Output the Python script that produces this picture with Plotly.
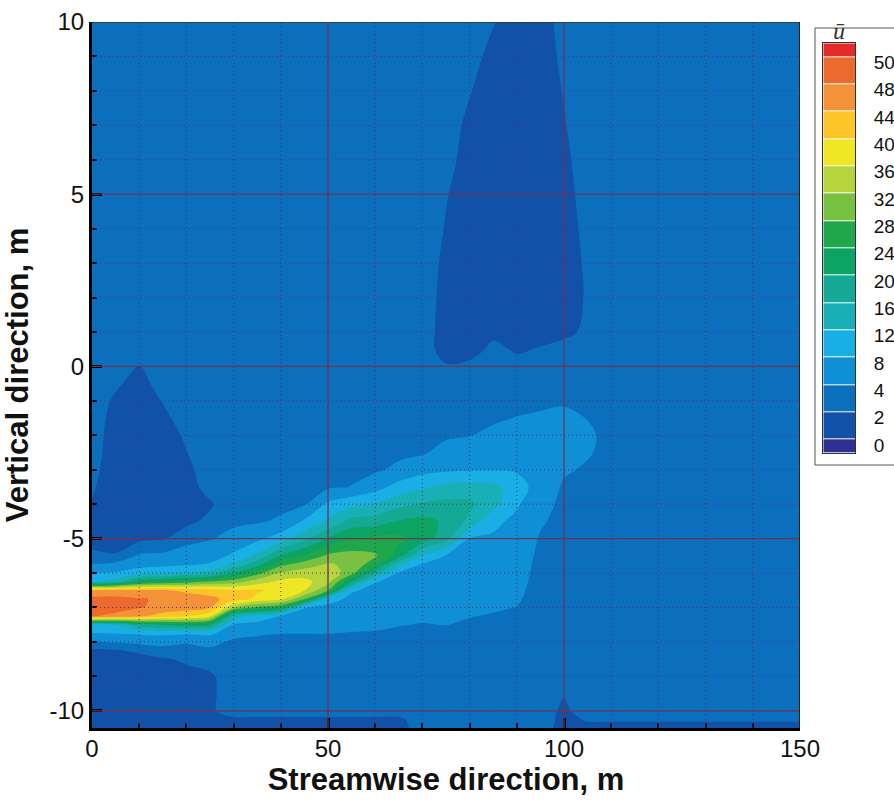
import plotly.graph_objects as go

# ---------------- data ----------------
# grid of the mean streamwise velocity field (x: streamwise m, y: vertical m)
X_M = [0, 5, 10, 15, 20, 25, 30, 35, 40, 45, 50, 55, 60, 65, 70, 75, 80, 85, 90, 95, 100, 105, 110, 120, 150]
Y_M = [-10.5, -10.25, -10, -9.5, -9, -8.5, -8.25, -8, -7.75, -7.5, -7.25, -7, -6.75, -6.5, -6.25, -6,
       -5.75, -5.5, -5, -4.5, -4, -3.5, -3, -2.5, -2, -1.5, -1, -0.5, 0, 0.5, 1, 2, 3, 4, 5, 6, 7, 8, 9, 10]

# one list per X_M column, values along Y_M (bottom -> top)
U_COLS = [
    # x = 0
    [1.2, 1.2, 1.2, 1.2, 1.2, 1.2, 1.5, 3.8, 7.9, 11, 48.2, 49.5, 49, 44.3, 11.5, 8.1, 4.1, 2.3,
     1.5, 1.6, 1.9, 2.2, 2.5, 2.8, 3, 3, 3, 3, 3, 3, 3, 3, 3, 3, 3, 3, 3, 3, 3, 3],
    # x = 5
    [1.2, 1.2, 1.2, 1.2, 1.2, 1.2, 1.8, 4.2, 8.2, 12.2, 47, 49.5, 49.2, 45, 14, 8.5, 4.6, 2.2,
     1.0, 1.0, 1.0, 1.0, 1.0, 1.0, 1.0, 1.3, 1.7, 2.3, 3, 3, 3, 3, 3, 3, 3, 3, 3, 3, 3, 3],
    # x = 10
    [1.2, 1.2, 1.2, 1.2, 1.2, 1.3, 2.4, 4.6, 8.5, 18, 45, 48.3, 48.3, 44.5, 22, 10, 6.5, 4.3,
     1.5, 1.0, 1.0, 1.0, 1.0, 1.0, 1.0, 1.0, 1.0, 1.3, 1.9, 3, 3, 3, 3, 3, 3, 3, 3, 3, 3, 3],
    # x = 15
    [1.2, 1.2, 1.2, 1.2, 1.2, 1.8, 3.0, 5, 9, 20.5, 42, 47, 47.5, 44.4, 24.3, 11, 7, 4.5,
     1.8, 1.1, 1.1, 1.1, 1.1, 1.1, 1.1, 1.5, 2.1, 2.8, 3, 3, 3, 3, 3, 3, 3, 3, 3, 3, 3, 3],
    # x = 20
    [1.3, 1.3, 1.3, 1.3, 1.4, 2.3, 3.4, 4.2, 8.5, 22, 40.5, 46, 46.5, 43, 26, 12.3, 7.5, 5.5,
     3.0, 1.6, 1.3, 1.3, 1.5, 1.95, 2.3, 2.9, 3, 3, 3, 3, 3, 3, 3, 3, 3, 3, 3, 3, 3, 3],
    # x = 25
    [1.3, 1.4, 1.6, 1.6, 1.7, 2.8, 3.5, 4.8, 9, 20.5, 37, 44.2, 45, 42, 28.3, 14, 8.5, 6,
     3.8, 2.4, 1.8, 2.6, 3, 3, 3, 3, 3, 3, 3, 3, 3, 3, 3, 3, 3, 3, 3, 3, 3, 3],
    # x = 30
    [1.3, 1.6, 3, 3, 3, 3, 3.1, 3.5, 5, 7.5, 15, 32.3, 42.5, 40.3, 30, 20.5, 13, 8.8,
     5.0, 3.4, 3, 3, 3, 3, 3, 3, 3, 3, 3, 3, 3, 3, 3, 3, 3, 3, 3, 3, 3, 3],
    # x = 35
    [1.3, 1.6, 3, 3, 2.4, 3, 3.05, 3.4, 4.3, 6.7, 10.5, 27, 39, 40.5, 34, 26.5, 18.5, 13,
     7, 3.6, 3.1, 3, 3, 3, 3, 3, 3, 3, 3, 3, 3, 3, 3, 3, 3, 3, 3, 3, 3, 3],
    # x = 40
    [1.3, 1.6, 3, 3, 3, 3, 3.1, 3.3, 4.05, 5.8, 7.8, 24.3, 37, 39, 37, 32.4, 27, 20.4,
     10, 4.5, 3.2, 3, 3, 3, 3, 3, 3, 3, 3, 3, 3, 3, 3, 3, 3, 3, 3, 3, 3, 3],
    # x = 45
    [1.3, 1.6, 3, 3, 3, 3, 3.1, 3.3, 4.05, 5.2, 6.5, 8.2, 28.4, 36.2, 37.2, 34, 30, 24.3,
     15, 8.5, 3.6, 3.0, 3, 3, 3, 3, 3, 3, 3, 3, 3, 3, 3, 3, 3, 3, 3, 3, 3, 3],
    # x = 50
    [1.3, 1.6, 3, 3, 3, 3, 3.1, 3.3, 4.05, 5, 5.9, 6.8, 10, 28.3, 33.5, 35, 32.5, 28.8,
     20.3, 12.6, 8.8, 3.4, 3, 3, 3, 3, 3, 3, 3, 3, 3, 3, 3, 3, 3, 3, 3, 3, 3, 3],
    # x = 55
    [1.3, 1.6, 3, 3, 3, 3, 3.1, 3.3, 3.9, 4.6, 5.2, 6, 7, 8.5, 20.3, 29.5, 31, 29.5,
     24.2, 17.3, 11, 4.1, 3.3, 3, 3, 3, 3, 3, 3, 3, 3, 3, 3, 3, 3, 3, 3, 3, 3, 3],
    # x = 60
    [1.3, 1.6, 3, 3, 3, 3, 3.1, 3.3, 3.8, 4.5, 5.1, 5.7, 6.2, 7, 8.2, 17.5, 25.5, 28.5,
     25, 18, 12.2, 6.5, 3.4, 3, 3, 3, 3, 3, 3, 3, 3, 3, 3, 3, 3, 3, 3, 3, 3, 3],
    # x = 65
    [1.4, 1.6, 3, 3, 3, 3, 3.1, 3.2, 3.6, 4.1, 4.7, 5.3, 5.8, 6.4, 7, 7.6, 13, 22,
     25, 20.3, 15, 9.5, 4.9, 3.1, 3, 3, 3, 3, 3, 3, 3, 3, 3, 3, 3, 3, 3, 3, 3, 3],
    # x = 70
    [2.8, 3, 3, 3, 3, 3, 3.05, 3.1, 3.4, 3.9, 4.4, 5.0, 5.5, 6, 6.6, 7.1, 7.6, 11.5,
     22.3, 21.2, 16.5, 11.5, 6.6, 3.6, 3, 3, 3, 3, 3, 3, 3, 3, 3, 3, 3, 3, 3, 3, 3, 3],
    # x = 75
    [2.8, 3, 3, 3, 3, 3, 3, 3.2, 3.6, 4.05, 4.5, 4.9, 5.3, 5.8, 6.3, 6.8, 7.3, 7.8,
     17.5, 19.3, 17.2, 13, 7.3, 5.2, 3.5, 3, 3, 3, 2.2, 1.1, 1.1, 1.33, 1.57, 1.89, 2.1, 2.5, 2.8, 3, 3, 3],
    # x = 80
    [2.8, 3, 3, 3, 3, 3, 3, 3.1, 3.3, 3.6, 4.1, 4.5, 5.0, 5.5, 5.9, 6.4, 6.8, 7.2,
     7.8, 15, 16.8, 13.5, 7.6, 5.6, 3.9, 3.2, 3, 3, 2.4, 1.3, 1.1, 1.1, 1.1, 1.15, 1.2, 1.4, 1.6, 2.1, 2.6, 3.0],
    # x = 85
    [2.8, 3, 3, 3, 3, 3, 3, 3, 3.1, 3.4, 3.8, 4.3, 4.9, 5.4, 5.8, 6.2, 6.6, 6.9,
     7.4, 9, 13.5, 13, 7.8, 6.2, 4.8, 3.5, 3, 3, 3, 2.4, 1.6, 1.1, 1.0, 1.0, 1.0, 1.0, 1.0, 1.1, 1.5, 2.1],
    # x = 90
    [2.8, 3, 3, 3, 3, 3, 3, 3, 3.1, 3.3, 3.6, 3.95, 4.3, 4.6, 4.9, 5.2, 5.5, 5.8,
     6.4, 7.0, 8.5, 10, 7.5, 6.2, 5.2, 4.1, 3.1, 3, 2.5, 1.8, 1.3, 1.0, 1.0, 1.0, 1.0, 1.0, 1.0, 1.0, 1.0, 1.2],
    # x = 95
    [2.8, 3, 3, 3, 3, 3, 3, 3, 3, 3, 3, 3, 3, 3, 3, 3.05, 3.1, 3.3,
     3.7, 4.4, 5.2, 6, 6.8, 6.8, 6, 4.4, 3.4, 3, 2.8, 2.1, 1.5, 1.0, 1.0, 1.0, 1.0, 1.0, 1.0, 1.0, 1.2, 1.5],
    # x = 100
    [1.3, 1.4, 1.6, 2.15, 3, 3, 3, 3, 3, 3, 3, 3, 3, 3, 3, 3, 3, 3,
     3, 3, 3.2, 3.6, 4.4, 5.2, 5.5, 4.8, 3.6, 3, 3, 2.7, 1.5, 1.1, 1.1, 1.2, 1.4, 1.6, 1.9, 2.11, 2.35, 2.4],
    # x = 105
    [1.5, 2.2, 3, 3, 3, 3, 3, 3, 3, 3, 3, 3, 3, 3, 3, 3, 3, 3,
     3, 3, 3, 3.2, 3.6, 4.3, 4.6, 3.9, 3.2, 3, 3, 3, 2.4, 2.2, 2.3, 2.5, 2.7, 2.9, 2.9, 3, 3, 3],
    # x = 110
    [1.5, 2.2, 3, 3, 3, 3, 3, 3, 3, 3, 3, 3, 3, 3, 3, 3, 3, 3,
     3, 3, 3, 3, 3, 3, 3, 3, 3, 3, 3, 3, 3, 3, 3, 3, 3, 3, 3, 3, 3, 3],
    # x = 120
    [1.5, 2.2, 3, 3, 3, 3, 3, 3, 3, 3, 3, 3, 3, 3, 3, 3, 3, 3,
     3, 3, 3, 3, 3, 3, 3, 3, 3, 3, 3, 3, 3, 3, 3, 3, 3, 3, 3, 3, 3, 3],
    # x = 150
    [1.5, 2.2, 3, 3, 3, 3, 3, 3, 3, 3, 3, 3, 3, 3, 3, 3, 3, 3,
     3, 3, 3, 3, 3, 3, 3, 3, 3, 3, 3, 3, 3, 3, 3, 3, 3, 3, 3, 3, 3, 3],
]

# contour levels shown in the legend and the colour of each band (lowest -> highest)
LEVELS = [0, 2, 4, 8, 12, 16, 20, 24, 28, 32, 36, 40, 44, 48, 50]
BAND_COLORS = ['#2e3192', '#1151a8', '#0b6fbe', '#0f8fd6', '#19afe5', '#18b0b6', '#14a994', '#0ba463',
               '#20a64b', '#78c143', '#b7d43c', '#f0e724', '#fdc42a', '#f4923a', '#ec6a2d', '#e52a2a']
LEGEND_Z = [-1, 1, 3, 6, 10, 14, 18, 22, 26, 30, 34, 38, 42, 46, 49, 51]

X_TICKS = [0, 50, 100, 150]
Y_TICKS = [-10, -5, 0, 5, 10]
Y_TICK_TEXT = ['-10', '-5', '0', '5', '10']

# ---------------- colour scale (stepwise, shared by contour and legend) ----------------
lo, hi = LEVELS[0] - 1, LEVELS[-1] + 1


def frac(v):
    return (v - lo) / (hi - lo)


cscale = [[0.0, BAND_COLORS[0]]]
for i, L in enumerate(LEVELS):
    cscale.append([frac(L), BAND_COLORS[i]])
    cscale.append([frac(L), BAND_COLORS[i + 1]])
cscale.append([1.0, BAND_COLORS[-1]])

fig = go.Figure()
fig.add_trace(go.Contour(
    x=X_M, y=Y_M, z=U_COLS, transpose=True,
    colorscale=cscale, zmin=lo, zmax=hi,
    contours=dict(start=LEVELS[0], end=LEVELS[-1], size=2, coloring='fill', showlines=False),
    line=dict(width=0, smoothing=1), showscale=False, hoverinfo='skip'))

edges = [-0.5] + list(range(len(LEVELS))) + [len(LEVELS) - 0.5]
fig.add_trace(go.Heatmap(
    z=[[v] for v in LEGEND_Z], x=[0, 1], y=edges, colorscale=cscale, zmin=lo, zmax=hi,
    showscale=False, ygap=1, xaxis='x2', yaxis='y2', hoverinfo='skip'))

# ---------------- layout ----------------
W, H = 894, 805
ML, MR, MT, MB = 92, 0, 22, 77
PW, PH = W - ML - MR, H - MT - MB


def px_x(p):
    return (p - ML) / PW


def px_y(p):
    return 1 - (p - MT) / PH


tick_font = dict(family='Liberation Sans, Arial, sans-serif', size=24, color='#111')
title_font = dict(family='Liberation Sans, Arial, sans-serif', size=31, color='#111')

fig.update_layout(
    width=W, height=H, margin=dict(l=ML, r=MR, t=MT, b=MB, autoexpand=False),
    paper_bgcolor='white', plot_bgcolor='#3a3a3a', showlegend=False,
    xaxis=dict(domain=[0, px_x(800)], range=[0, 150], tickvals=X_TICKS, ticks='inside', ticklen=10,
               tickwidth=3, tickcolor='black', showline=True, linewidth=3, linecolor='black',
               showgrid=False, zeroline=False, tickfont=tick_font, layer='above traces',
               automargin=False, ticklabelstandoff=-3,
               minor=dict(dtick=10, tick0=0, ticks='inside', ticklen=5, tickwidth=1.5, tickcolor='black',
                          showgrid=False),
               title=dict(text='<b>Streamwise direction, m</b>', font=title_font, standoff=8)),
    yaxis=dict(range=[-10.5, 10], tickvals=Y_TICKS, ticktext=Y_TICK_TEXT, ticks='inside', ticklen=10,
               tickwidth=3, tickcolor='black', showline=True, linewidth=3, linecolor='black',
               showgrid=False, zeroline=False, tickfont=tick_font, layer='above traces', automargin=False,
               minor=dict(dtick=1, tick0=0, ticks='inside', ticklen=5, tickwidth=1.5, tickcolor='black',
                          showgrid=False),
               title=dict(text='<b>Vertical direction, m</b>', font=title_font, standoff=12)),
    xaxis2=dict(domain=[px_x(823.3), px_x(855)], range=[0, 1], anchor='y2', showticklabels=False,
                ticks='', showgrid=False, zeroline=False, showline=True, mirror=True,
                linecolor='#333', linewidth=1, fixedrange=True, automargin=False),
    yaxis2=dict(domain=[px_y(453.3), px_y(43.3)], range=[edges[0], edges[-1]], anchor='x2', side='right',
                tickvals=[i - 0.2 for i in range(len(LEVELS))], ticktext=[str(v) for v in LEVELS],
                ticks='', showgrid=False, zeroline=False, showline=True, mirror=True,
                linecolor='#333', linewidth=1, ticklabelstandoff=14, automargin=False,
                tickfont=dict(family='Liberation Sans, Arial, sans-serif', size=19, color='#111'),
                fixedrange=True),
)

shapes = []
# legend box
shapes.append(dict(type='rect', xref='paper', yref='paper', x0=px_x(815), x1=1.05,
                   y0=px_y(465), y1=px_y(28), line=dict(color='#555', width=1),
                   fillcolor='white', layer='below'))
# grid lines drawn over the field
for gx in range(10, 150, 10):
    major = gx % 50 == 0
    shapes.append(dict(type='line', xref='x', yref='y', x0=gx, x1=gx, y0=-10.5, y1=10, layer='above',
                       line=dict(color='#6e3450' if major else '#4b3a66', width=1.3 if major else 1,
                                 dash='solid' if major else '1px,3px')))
for gy in range(-10, 10):
    major = gy % 5 == 0
    shapes.append(dict(type='line', xref='x', yref='y', x0=0, x1=150, y0=gy, y1=gy, layer='above',
                       line=dict(color='#6e3450' if major else '#4b3a66', width=1.3 if major else 1,
                                 dash='solid' if major else '1px,3px')))
# thin top / right frame
shapes.append(dict(type='line', xref='x', yref='y', x0=0, x1=150, y0=10, y1=10, layer='above',
                   line=dict(color='#333', width=1.5)))
shapes.append(dict(type='line', xref='x', yref='y', x0=150, x1=150, y0=-10.5, y1=10, layer='above',
                   line=dict(color='#222', width=2)))
fig.update_layout(shapes=shapes)

fig.add_annotation(xref='paper', yref='paper', x=px_x(839), y=px_y(31), text='<i>ū</i>',
                   xanchor='center', yanchor='middle', showarrow=False,
                   font=dict(family='Liberation Serif, DejaVu Serif, serif', size=24, color='#333'))

fig.write_html('out.html')
